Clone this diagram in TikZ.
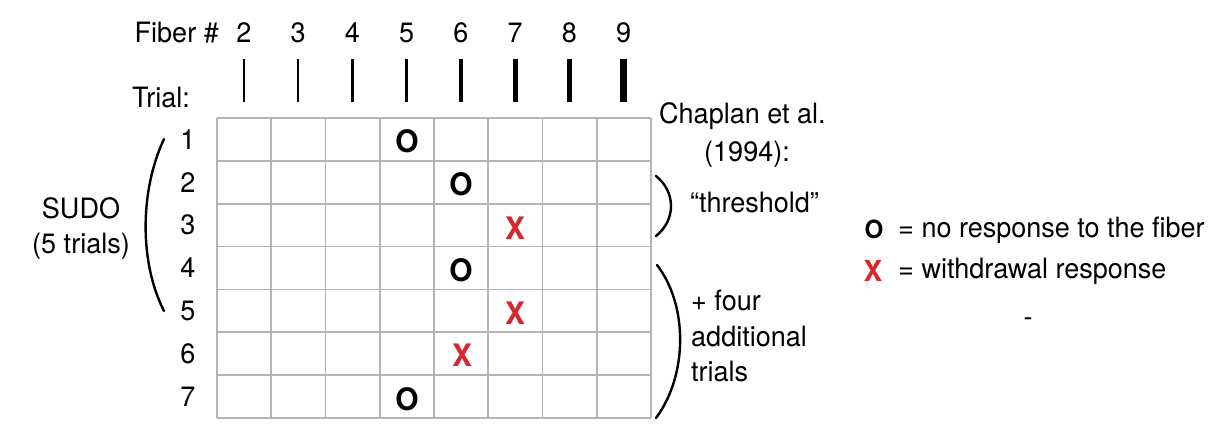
\documentclass[tikz,border=0pt]{standalone}
\usepackage{fontspec}
\setmainfont[FakeStretch=0.965]{TeX Gyre Heros}
\definecolor{gridgray}{HTML}{B4B4B4}
\definecolor{mred}{HTML}{D7262E}
\begin{document}
\begin{tikzpicture}[x=1pt,y=-1pt,
  lbl/.style={font=\fontsize{28}{36}\selectfont, inner sep=0pt},
  omark/.style={font=\fontsize{31}{32}\selectfont\bfseries, inner sep=0pt},
  xmark/.style={font=\fontsize{31}{32}\selectfont\bfseries, text=mred, inner sep=0pt},
  gridline/.style={draw=gridgray, line width=1.6pt},
  paren/.style={draw=black, line width=2.4pt, line cap=round}]
\useasboundingbox (0,0) rectangle (1213,437);

% grid of trials x fibers
\foreach \i in {0,...,8} \draw[gridline] (217+54.25*\i,118) -- (217+54.25*\i,418);
\foreach \j in {0,...,7} \draw[gridline] (217,118+42.857*\j) -- (651,118+42.857*\j);

% fiber numbers and bars of increasing thickness
\node[lbl, anchor=base east] (fiberlbl) at (219,42) {Fiber \#};
\foreach \n/\w [count=\k from 0] in {2/1.8,3/2.1,4/2.8,5/3.4,6/4.2,7/4.9,8/5.8,9/6.6} {
  \node[lbl, anchor=base] (f\n) at (244+54.25*\k,42) {\n};
  \draw[line width=\w pt] (244+54.25*\k,59) -- (244+54.25*\k,102);
}
\node[lbl, anchor=base west] (triallbl) at (132,107) {Trial:};

% trial numbers
\foreach \r in {1,...,7}
  \node[lbl] (t\r) at (188,139.4+42.857*\r-42.857) {\r};

% responses
\node[omark] (o1) at (407,141) {O};
\node[omark] (o2) at (461,184) {O};
\node[xmark] (x3) at (515,228) {X};
\node[omark] (o4) at (461,270) {O};
\node[xmark] (x5) at (515,313) {X};
\node[xmark] (x6) at (462,355) {X};
\node[omark] (o7) at (407,399) {O};

% SUDO bracket
\draw[paren] (164,139) .. controls (140,190) and (139,262) .. (164,311);
\node[lbl] (sudo) at (81,208) {SUDO};
\node[lbl] (sudon) at (81,246) {(5 trials)};

% Chaplan et al. brackets
\node[lbl, anchor=west] (chap) at (659,116) {Chaplan et al.};
\node[lbl] (year) at (747,154) {(1994):};
\draw[paren] (656,176) .. controls (676,192) and (676,220) .. (656,236);
\node[lbl, anchor=west] (thr) at (690,202) {“threshold”};
\draw[paren] (657,265) .. controls (688,305) and (688,375) .. (656,418);
\node[lbl, anchor=west] (four1) at (691,300) {+ four};
\node[lbl, anchor=west] (four2) at (691,336) {additional};
\node[lbl, anchor=west] (four3) at (691,371) {trials};

% legend
\node[font=\fontsize{25}{26}\selectfont\bfseries, inner sep=0pt] (lo) at (874,229) {O};
\node[lbl, anchor=west] (lotxt) at (898,230) {= no response to the fiber};
\node[xmark, font=\fontsize{29}{30}\selectfont\bfseries] (lx) at (873,271) {X};
\node[lbl, anchor=west] (lxtxt) at (898,271) {= withdrawal response};
\node[lbl] (dash) at (1028,322) {-};
\end{tikzpicture}
\end{document}
